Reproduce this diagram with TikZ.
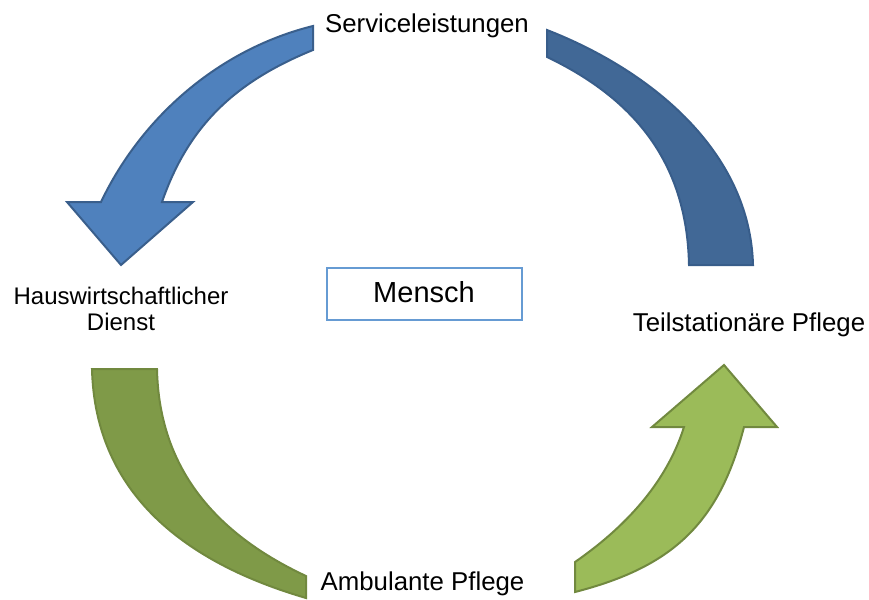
\documentclass[tikz,border=0pt]{standalone}
\usepackage{fontspec}
\setmainfont{Liberation Sans}
\definecolor{blueA}{HTML}{4F81BD}
\definecolor{blueAline}{HTML}{3A5F8C}
\definecolor{blueB}{HTML}{416896}
\definecolor{blueBline}{HTML}{385D8A}
\definecolor{greenA}{HTML}{7F9A48}
\definecolor{greenAline}{HTML}{71893F}
\definecolor{greenB}{HTML}{9BBB59}
\definecolor{greenBline}{HTML}{71893F}
\definecolor{boxline}{HTML}{669BD3}
\begin{document}
\begin{tikzpicture}[x=1pt,y=-1pt,
  band/.style={line width=2pt, line join=miter},
  label/.style={inner sep=0pt, text=black, font=\fontsize{25.8}{28}\selectfont},
  centrebox/.style={draw=boxline, line width=1.5pt, inner sep=0pt,
    minimum width=195pt, minimum height=52pt},
]
\useasboundingbox (0,0) rectangle (869,599);

% upper left arrow, pointing down to the left
\draw[band, fill=blueA, draw=blueAline]
  (313,26) .. controls (220,49) and (142,116) .. (101,202)
  -- (67,202) -- (121,265) -- (193,202) -- (162,202)
  .. controls (189,124) and (237,81) .. (313,50) -- cycle;

% upper right band
\draw[band, fill=blueB, draw=blueBline]
  (547,30) .. controls (652,71) and (750,152) .. (753,265)
  -- (689,265)
  .. controls (687,165) and (637,100) .. (547,57) -- cycle;

% lower left band
\draw[band, fill=greenA, draw=greenAline]
  (92,369) .. controls (95,494) and (186,563) .. (306,598)
  -- (306,576)
  .. controls (214,533) and (159,467) .. (157,369) -- cycle;

% lower right arrow, pointing up
\draw[band, fill=greenB, draw=greenBline]
  (575,592) .. controls (672,567) and (719,524) .. (744,427)
  -- (777,427) -- (724,365) -- (652,427) -- (684,427)
  .. controls (666,484) and (624,528) .. (575,562) -- cycle;

% labels
\node[label, anchor=base] (service) at (427,33) {Serviceleistungen};
\node[label, anchor=center, align=center,
  font=\fontsize{24}{26.5}\selectfont] (haus) at (121,309)
  {Hauswirtschaftlicher\\Dienst};
\node[label, anchor=base] (teil) at (749,331) {Teilstationäre Pflege};
\node[label, anchor=base] (ambu) at (422.5,590) {Ambulante Pflege};

% centre box
\node[centrebox] (box) at (424.5,294) {};
\node[label, anchor=base, font=\fontsize{29}{32}\selectfont] (mensch)
  at (424,302) {Mensch};
\end{tikzpicture}
\end{document}
